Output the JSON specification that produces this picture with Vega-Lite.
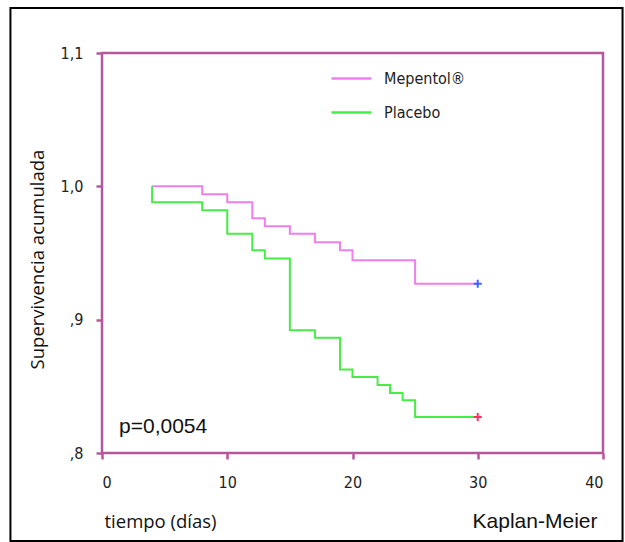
{
  "$schema": "https://vega.github.io/schema/vega-lite/v6.json",
  "width": 501,
  "height": 400,
  "autosize": {"type": "none"},
  "padding": {"left": 102, "top": 53, "right": 22, "bottom": 89},
  "background": "white",
  "config": {
    "view": {"stroke": "#b5579a", "strokeWidth": 2.5},
    "axis": {
      "domain": false,
      "grid": false,
      "tickColor": "#b5579a",
      "tickWidth": 2.5,
      "tickSize": 6,
      "labelFont": "DejaVu Sans Condensed, Liberation Sans Narrow, Roboto",
      "labelFontSize": 16,
      "labelColor": "#222222",
      "titleFont": "Open Sans",
      "titleFontSize": 18.5,
      "titleFontWeight": "normal",
      "titleColor": "#111111"
    },
    "legend": {
      "labelFont": "DejaVu Sans Condensed, Liberation Sans Narrow, Roboto",
      "labelFontSize": 16,
      "labelColor": "#222222"
    }
  },
  "datasets": {
    "km": [
      {"series": "Mepentol®", "i": 1, "t": 4, "s": 1.0},
      {"series": "Mepentol®", "i": 2, "t": 8, "s": 0.994},
      {"series": "Mepentol®", "i": 3, "t": 10, "s": 0.988},
      {"series": "Mepentol®", "i": 4, "t": 12, "s": 0.976},
      {"series": "Mepentol®", "i": 5, "t": 13, "s": 0.970},
      {"series": "Mepentol®", "i": 6, "t": 15, "s": 0.9645},
      {"series": "Mepentol®", "i": 7, "t": 17, "s": 0.958},
      {"series": "Mepentol®", "i": 8, "t": 19, "s": 0.952},
      {"series": "Mepentol®", "i": 9, "t": 20, "s": 0.9445},
      {"series": "Mepentol®", "i": 10, "t": 25, "s": 0.927},
      {"series": "Mepentol®", "i": 11, "t": 30, "s": 0.927},
      {"series": "Placebo", "i": 1, "t": 4, "s": 1.0},
      {"series": "Placebo", "i": 2, "t": 4, "s": 0.988},
      {"series": "Placebo", "i": 3, "t": 8, "s": 0.982},
      {"series": "Placebo", "i": 4, "t": 10, "s": 0.9645},
      {"series": "Placebo", "i": 5, "t": 12, "s": 0.952},
      {"series": "Placebo", "i": 6, "t": 13, "s": 0.9458},
      {"series": "Placebo", "i": 7, "t": 15, "s": 0.892},
      {"series": "Placebo", "i": 8, "t": 17, "s": 0.8865},
      {"series": "Placebo", "i": 9, "t": 19, "s": 0.8627},
      {"series": "Placebo", "i": 10, "t": 20, "s": 0.857},
      {"series": "Placebo", "i": 11, "t": 22, "s": 0.851},
      {"series": "Placebo", "i": 12, "t": 23, "s": 0.845},
      {"series": "Placebo", "i": 13, "t": 24, "s": 0.8395},
      {"series": "Placebo", "i": 14, "t": 25, "s": 0.827},
      {"series": "Placebo", "i": 15, "t": 30, "s": 0.827}
    ],
    "censor": [
      {"series": "Mepentol®", "t": 30, "s": 0.927},
      {"series": "Placebo", "t": 30, "s": 0.827}
    ]
  },
  "layer": [
    {
      "data": {"values": [{"frame": "border"}]},
      "mark": {"type": "rect", "fill": null, "stroke": "#000000", "strokeWidth": 2, "clip": false},
      "encoding": {
        "x": {"datum": -7.31, "type": "quantitative", "scale": {"domain": [0, 40], "nice": false, "zero": false}},
        "x2": {"datum": 41.56},
        "y": {"datum": 1.1338, "type": "quantitative", "scale": {"domain": [0.8, 1.1], "nice": false, "zero": false}},
        "y2": {"datum": 0.734}
      }
    },
    {
      "data": {"name": "km"},
      "mark": {"type": "line", "interpolate": "step-after", "strokeWidth": 2},
      "encoding": {
        "x": {
          "field": "t", "type": "quantitative",
          "scale": {"domain": [0, 40], "nice": false, "zero": false},
          "axis": {
            "values": [0, 10, 20, 30, 40],
            "labelPadding": 15,
            "title": "tiempo (días)",
            "titleX": 2,
            "titleY": 74,
            "titleAlign": "left",
            "titleBaseline": "alphabetic"
          }
        },
        "y": {
          "field": "s", "type": "quantitative",
          "scale": {"domain": [0.8, 1.1], "nice": false, "zero": false},
          "axis": {
            "values": [0.8, 0.9, 1.0, 1.1],
            "labelExpr": "datum.value > 1.05 ? '1,1' : datum.value > 0.95 ? '1,0' : datum.value > 0.85 ? ',9' : ',8'",
            "labelPadding": 13,
            "title": "Supervivencia acumulada",
            "titleX": -65,
            "titleY": 206,
            "titleAngle": -90,
            "titleAlign": "center",
            "titleBaseline": "middle"
          }
        },
        "order": {"field": "i", "type": "quantitative"},
        "color": {
          "field": "series", "type": "nominal",
          "scale": {"domain": ["Mepentol®", "Placebo"], "range": ["#f07ef0", "#45ee45"]},
          "legend": {
            "title": null,
            "orient": "none",
            "legendX": 238,
            "legendY": 14,
            "padding": 0,
            "symbolType": "M-2,0H2",
            "symbolSize": 400,
            "symbolStrokeWidth": 2.5,
            "labelOffset": 21,
            "rowPadding": 14
          }
        }
      }
    },
    {
      "data": {"name": "censor"},
      "mark": {"type": "point", "shape": "M-1,0H1M0,-1V1", "size": 64, "strokeWidth": 2, "filled": false, "opacity": 1},
      "encoding": {
        "x": {"field": "t", "type": "quantitative", "scale": {"domain": [0, 40], "nice": false, "zero": false}},
        "y": {"field": "s", "type": "quantitative", "scale": {"domain": [0.8, 1.1], "nice": false, "zero": false}},
        "color": {
          "field": "series", "type": "nominal",
          "scale": {"domain": ["Mepentol®", "Placebo"], "range": ["#3a66ff", "#ff3355"]},
          "legend": null
        }
      }
    },
    {
      "data": {"values": [{"label": "p=0,0054"}]},
      "mark": {"type": "text", "font": "Liberation Sans", "fontSize": 21, "align": "left", "baseline": "alphabetic", "color": "#111111"},
      "encoding": {
        "text": {"field": "label"},
        "x": {"datum": 1.36, "type": "quantitative"},
        "y": {"datum": 0.815, "type": "quantitative"}
      }
    },
    {
      "data": {"values": [{"label": "Kaplan-Meier"}]},
      "mark": {"type": "text", "font": "Liberation Sans", "fontSize": 21, "align": "right", "baseline": "alphabetic", "color": "#111111", "clip": false},
      "encoding": {
        "text": {"field": "label"},
        "x": {"datum": 39.56, "type": "quantitative"},
        "y": {"datum": 0.7435, "type": "quantitative"}
      }
    }
  ],
  "resolve": {"scale": {"color": "independent"}}
}
